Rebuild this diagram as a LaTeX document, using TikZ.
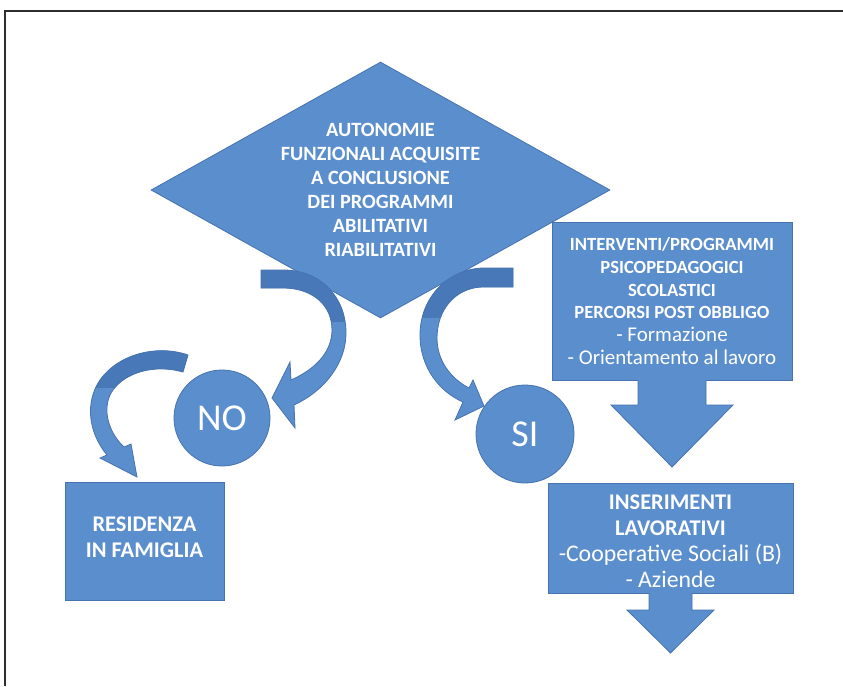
\documentclass[tikz,border=0pt]{standalone}
\usepackage{fontspec}
\setmainfont{Carlito}
\usetikzlibrary{shapes.geometric}
\definecolor{boxblue}{RGB}{91,142,205}
\definecolor{edgeblue}{RGB}{70,115,175}
\definecolor{backblue}{RGB}{72,120,184}
\definecolor{framegray}{RGB}{45,45,45}
\tikzset{
  blockshape/.style={fill=boxblue, draw=edgeblue, line width=0.8pt},
  blockfill/.style={fill=boxblue},
  blockedge/.style={draw=edgeblue, line width=0.8pt},
  boxtext/.style={text=white, align=center, inner sep=0pt},
}
\begin{document}
\begin{tikzpicture}[x=1pt,y=-1pt]
\useasboundingbox (0,0) rectangle (843,686);
\fill[white] (0,0) rectangle (843,686);
% frame (top and left only)
\draw[framegray, line width=1.4pt] (5,686) -- (5,11) -- (843,11);

% diamond
\node[diamond, blockshape, minimum width=459pt, minimum height=256pt, inner sep=0pt] (dec) at (380.5,190) {};

% NO arrow (diamond -> NO)
\def\arrowA{(261,270) -- (285,270) .. controls (322,271) and (346,298) .. (346,333) .. controls (346,362) and (326,390) .. (294,405) -- (295,428) -- (272,398) -- (290,362) -- (291,380) .. controls (318,368) and (332,350) .. (332,330) .. controls (332,306) and (314,289) .. (285,288) -- (261,288) -- cycle}
\fill[boxblue] \arrowA;
\begin{scope}
\clip \arrowA;
\fill[backblue] (250,260) rectangle (360,322);
\end{scope}
\draw[edgeblue, line width=0.8pt] \arrowA;

% SI arrow (diamond -> SI)
\def\arrowB{(513,268) -- (482,268) .. controls (445,270) and (420,300) .. (420,335) .. controls (420,368) and (440,392) .. (463,402) -- (455,420) -- (484,406) -- (473,380) -- (469,388) .. controls (450,378) and (437,360) .. (437,338) .. controls (437,310) and (455,288) .. (482,287) -- (513,287) -- cycle}
\fill[boxblue] \arrowB;
\begin{scope}
\clip \arrowB;
\fill[backblue] (410,260) rectangle (520,318);
\end{scope}
\draw[edgeblue, line width=0.8pt] \arrowB;

% NO -> residenza arrow
\def\arrowC{(188,355) .. controls (160,345) and (120,352) .. (100,380) .. controls (85,402) and (88,432) .. (107,455) -- (100,458) -- (137,477) -- (131,444) -- (124,447) .. controls (106,430) and (102,405) .. (113,390) .. controls (126,372) and (155,364) .. (183,372) -- cycle}
\fill[boxblue] \arrowC;
\begin{scope}
\clip \arrowC;
\fill[backblue] (80,340) rectangle (195,388);
\end{scope}
\draw[edgeblue, line width=0.8pt] \arrowC;

% diamond text
\node[boxtext, font=\bfseries\fontsize{20.3}{24}\selectfont] (dectext) at (dec.center) {AUTONOMIE\\FUNZIONALI ACQUISITE\\A CONCLUSIONE\\DEI PROGRAMMI\\ABILITATIVI\\RIABILITATIVI};

% circles
\node[circle, blockshape, minimum size=96pt, inner sep=0pt, text=white, font=\fontsize{38}{40}\selectfont] (no) at (222,418) {NO};
\node[circle, blockshape, minimum size=98pt, inner sep=0pt, text=white, font=\fontsize{38}{40}\selectfont] (si) at (525,434) {SI};

% right box
\node[rectangle, blockshape, minimum width=240pt, minimum height=158pt, inner sep=0pt] (prog) at (672,301) {};
\node[boxtext, font=\fontsize{21}{22.7}\selectfont] (progtext) at (prog.center) {{\bfseries\fontsize{18.6}{22.7}\selectfont INTERVENTI/PROGRAMMI}\\{\bfseries\fontsize{18.6}{22.7}\selectfont PSICOPEDAGOGICI}\\{\bfseries\fontsize{18.6}{22.7}\selectfont SCOLASTICI}\\{\bfseries\fontsize{18.6}{22.7}\selectfont PERCORSI POST OBBLIGO}\\- Formazione\\- Orientamento al lavoro};
% arrow below right box
\fill[boxblue] (638,378) -- (706,378) -- (706,405) -- (733,405) -- (672,467) -- (611,405) -- (638,405) -- cycle;
\draw[edgeblue, line width=0.8pt] (638,380) -- (638,405) -- (611,405) -- (672,467) -- (733,405) -- (706,405) -- (706,380);

% bottom right box
\node[rectangle, blockshape, minimum width=245pt, minimum height=110pt, inner sep=0pt] (lav) at (670.5,538) {};
\node[boxtext, font=\fontsize{23.8}{26}\selectfont] (lavtext) at (670.5,541) {{\bfseries\fontsize{22.4}{26}\selectfont INSERIMENTI}\\{\bfseries\fontsize{22.4}{26}\selectfont LAVORATIVI}\\-Cooperative Sociali (B)\\- Aziende};
\fill[boxblue] (649,591) -- (692,591) -- (692,610) -- (714,610) -- (670.5,653) -- (627,610) -- (649,610) -- cycle;
\draw[edgeblue, line width=0.8pt] (649,593) -- (649,610) -- (627,610) -- (670.5,653) -- (714,610) -- (692,610) -- (692,593);

% residenza box
\node[rectangle, blockshape, minimum width=159pt, minimum height=118pt, inner sep=0pt] (res) at (144.5,541) {};
\node[boxtext, font=\bfseries\fontsize{22.4}{26}\selectfont] (restext) at (144.5,537) {RESIDENZA\\IN FAMIGLIA};
\end{tikzpicture}
\end{document}
